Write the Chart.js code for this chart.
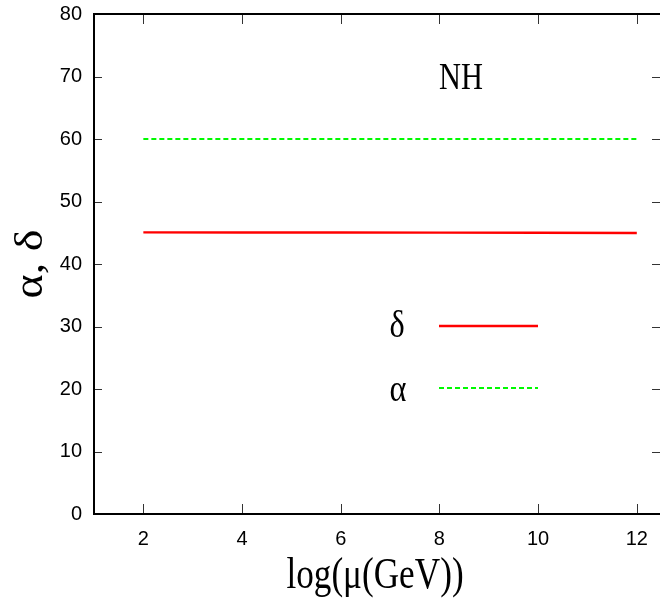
<!DOCTYPE html>
<html>
<head>
<meta charset="utf-8">
<script src="https://cdn.jsdelivr.net/npm/chart.js@4.4.0/dist/chart.umd.min.js"></script>
<style>
  html, body { margin: 0; padding: 0; background: #fff; overflow: hidden; }
  canvas { display: block; }
</style>
</head>
<body>
<canvas id="mixChart" width="660" height="605"></canvas>
<script>
// log(mu) sample points and mixing angles (degrees)
const logMu = [2, 4, 6, 8, 10, 12];
const deltaVals = [45.06, 45.05, 45.04, 45.02, 45.0, 44.96];
const alphaVals = [60, 60, 60, 60, 60, 60];
const xTicks = [2, 4, 6, 8, 10, 12];
const yTicks = [0, 10, 20, 30, 40, 50, 60, 70, 80];

const RED = '#ff0000';
const GREEN = 'rgb(0,250,0)';

function toPoints(xs, ys) {
    return xs.map((x, i) => ({ x: x, y: ys[i] }));
}

// text squeezed horizontally like the gnuplot output
function squeezeText(ctx, text, x, y, font, sx, rot) {
    ctx.save();
    ctx.translate(x, y);
    if (rot) ctx.rotate(rot);
    ctx.scale(sx, 1);
    ctx.font = font;
    ctx.fillStyle = '#000';
    ctx.textAlign = 'center';
    ctx.textBaseline = 'alphabetic';
    ctx.fillText(text, 0, 0);
    ctx.restore();
}

const framePlugin = {
    id: 'frame',
    afterDraw(chart) {
        const ctx = chart.ctx;
        const a = chart.chartArea;
        const xs = chart.scales.x, ys = chart.scales.y;

        // inward tick marks
        ctx.save();
        ctx.strokeStyle = '#333';
        ctx.lineWidth = 1;
        ctx.beginPath();
        xs.ticks.forEach(t => {
            const px = Math.round(xs.getPixelForValue(t.value)) + 0.5;
            ctx.moveTo(px, a.bottom); ctx.lineTo(px, a.bottom - 10);
            ctx.moveTo(px, a.top); ctx.lineTo(px, a.top + 10);
        });
        ys.ticks.forEach(t => {
            const py = Math.round(ys.getPixelForValue(t.value)) + 0.5;
            ctx.moveTo(a.left, py); ctx.lineTo(a.left + 8, py);
            ctx.moveTo(a.right, py); ctx.lineTo(a.right - 8, py);
        });
        ctx.stroke();

        // border
        ctx.strokeStyle = '#000';
        ctx.lineWidth = 2;
        ctx.beginPath();
        ctx.moveTo(a.right, a.top);
        ctx.lineTo(a.left, a.top);
        ctx.lineTo(a.left, a.bottom);
        ctx.lineTo(a.right, a.bottom);
        ctx.stroke();

        // key
        ctx.lineWidth = 2.4;
        ctx.strokeStyle = RED;
        ctx.beginPath();
        ctx.moveTo(439, 326); ctx.lineTo(538, 326);
        ctx.stroke();
        ctx.lineWidth = 1.8;
        ctx.strokeStyle = GREEN;
        ctx.setLineDash([5, 3]);
        ctx.beginPath();
        ctx.moveTo(439, 388); ctx.lineTo(538, 388);
        ctx.stroke();
        ctx.restore();

        const serif = "'Liberation Serif', 'Times New Roman', serif";
        squeezeText(ctx, 'δ', 397, 337, '38px ' + serif, 0.85);
        squeezeText(ctx, 'α', 398, 401, '38px ' + serif, 0.85);
        squeezeText(ctx, 'NH', 461, 89, '38px ' + serif, 0.8);
        squeezeText(ctx, 'log(μ(GeV))', 375, 588, '44px ' + serif, 0.8);
        squeezeText(ctx, 'α, δ', 42, 264, '40px ' + serif, 1.15, -Math.PI / 2);
    }
};

new Chart(document.getElementById('mixChart'), {
    type: 'line',
    data: {
        datasets: [{
            label: 'δ',
            data: toPoints(logMu, deltaVals),
            borderColor: RED,
            borderWidth: 2.4,
            pointRadius: 0,
            fill: false
        }, {
            label: 'α',
            data: toPoints(logMu, alphaVals),
            borderColor: GREEN,
            borderWidth: 1.8,
            borderDash: [5, 3],
            pointRadius: 0,
            fill: false
        }]
    },
    options: {
        responsive: false,
        animation: false,
        layout: { padding: { top: 14, right: 0, left: 0, bottom: 0 } },
        plugins: { legend: { display: false }, tooltip: { enabled: false } },
        scales: {
            x: {
                type: 'linear',
                min: 1,
                max: 12.47,
                grid: { display: false },
                border: { display: false },
                afterBuildTicks: s => { s.ticks = xTicks.map(v => ({ value: v })); },
                afterFit: s => { s.height = 91; s.paddingLeft = 0; s.paddingRight = 0; },
                ticks: {
                    color: '#000',
                    padding: 5,
                    maxRotation: 0,
                    font: { family: "'Liberation Sans', Arial, sans-serif", size: 20 }
                }
            },
            y: {
                min: 0,
                max: 80,
                grid: { display: false },
                border: { display: false },
                afterBuildTicks: s => { s.ticks = yTicks.map(v => ({ value: v })); },
                afterFit: s => { s.width = 94; s.paddingTop = 0; s.paddingBottom = 0; },
                ticks: {
                    color: '#000',
                    padding: 4,
                    font: { family: "'Liberation Sans', Arial, sans-serif", size: 20 }
                }
            }
        }
    },
    plugins: [framePlugin]
});
</script>
</body>
</html>
